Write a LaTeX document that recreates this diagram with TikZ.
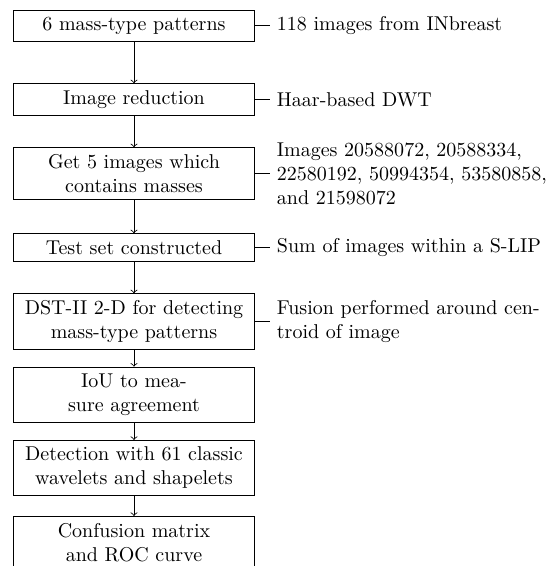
\documentclass[tikz,border=0pt]{standalone}
\usetikzlibrary{positioning}
\begin{document}
\begin{tikzpicture}[x=1pt,y=1pt,
  stepbox/.style={draw, text width=4cm, align=center, anchor=north, inner sep=3.333pt},
  lab/.style={align=left, inner sep=3.333pt},
  conn/.style={draw}]
\useasboundingbox (0,0) rectangle (272.5,-283);
\node[stepbox] (b1) at (67,-5) {6 mass-type patterns};
\node[stepbox] (b2) at (67,-41.65) {Image reduction};
\node[stepbox] (b3) at (67,-73.65) {Get 5 images which\\contains masses};
\node[stepbox] (b4) at (67,-116.65) {Test set constructed};
\node[stepbox] (b5) at (67,-146.65) {DST-II 2-D for detecting\\mass-type patterns};
\node[stepbox] (b6) at (67,-183.35) {IoU to mea-\\sure agreement};
\node[stepbox] (b7) at (67,-220) {Detection with 61 classic\\wavelets and shapelets};
\node[stepbox] (b8) at (67,-258) {Confusion matrix\\and ROC curve};
\node[lab, right=7.5pt of b1] (l1) {118 images from INbreast};
\node[lab, right=7.5pt of b2] (l2) {Haar-based DWT};
\node[lab, right=7.5pt of b3] (l3) {Images 20588072, 20588334,\\22580192, 50994354, 53580858,\\and 21598072};
\node[lab, right=7.5pt of b4] (l4) {Sum of images within a S-LIP};
\node[lab, right=7.5pt of b5] (l5) {Fusion performed around cen-\\troid of image};
\foreach \a/\b in {b1/b2,b2/b3,b3/b4,b4/b5,b5/b6,b6/b7,b7/b8}
  \draw[->] (\a) -- (\b);
\foreach \i in {1,...,5}
  \draw (b\i.east) -- (l\i.west);
\end{tikzpicture}
\end{document}
